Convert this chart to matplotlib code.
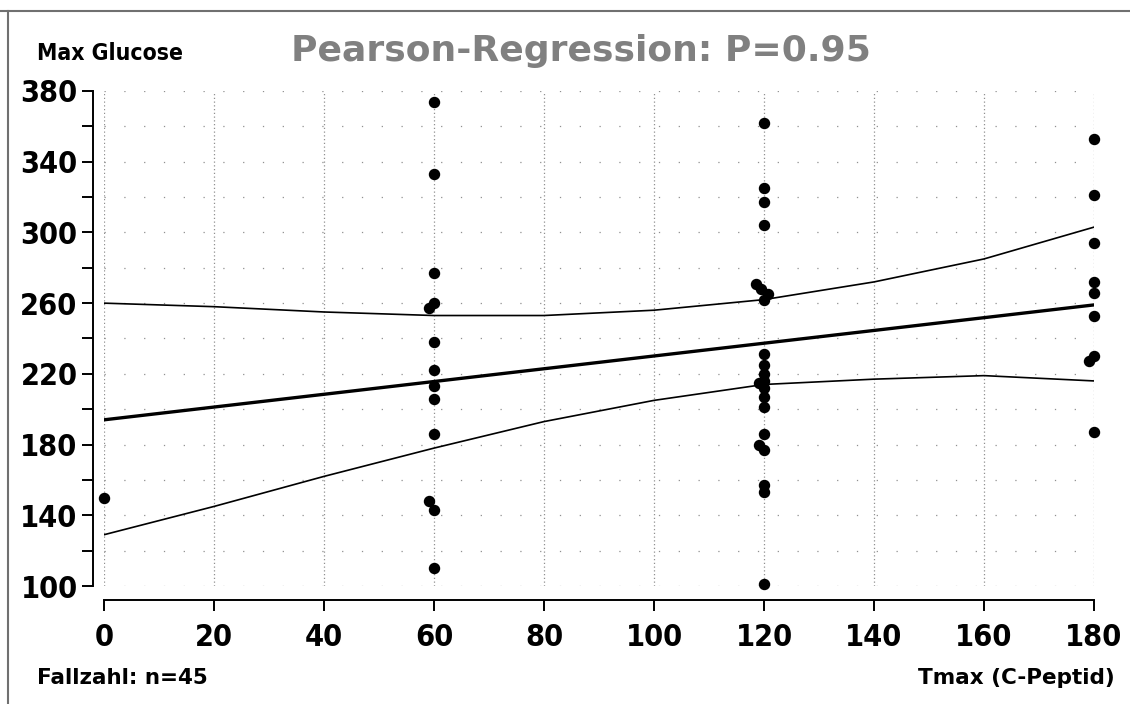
import matplotlib
matplotlib.use("Agg")
from matplotlib import pyplot as plt
from matplotlib.lines import Line2D

# Tmax (C-Peptid) vs. Max Glucose, n=45
tmax = [0,
        60, 60, 60, 59, 60, 60, 60, 60, 60, 60, 59, 60, 60,
        120, 120, 120, 120, 118.5, 119.5, 120.8, 120, 120, 120, 120, 120, 119,
        120, 120, 120, 120, 119, 120, 120, 120, 120,
        180, 180, 180, 180, 180, 180, 180, 179, 180]
glucose = [150,
           374, 333, 277, 257, 260, 238, 222, 213, 206, 186, 148, 143, 110,
           362, 325, 317, 304, 271, 268, 265, 262, 231, 225, 220, 216, 215,
           212, 207, 201, 186, 180, 177, 157, 153, 101,
           353, 321, 294, 272, 266, 253, 230, 227, 187]

# regression line and confidence band
reg_x = [0, 180]
reg_y = [194, 259]
band_x = [0, 20, 40, 60, 80, 100, 120, 140, 160, 180]
band_hi = [260, 258, 255, 253, 253, 256, 262, 272, 285, 303]
band_lo = [129, 145, 162, 178, 193, 205, 214, 217, 219, 216]

xticks = list(range(0, 181, 20))
yticks = list(range(100, 381, 40))
yminor = list(range(120, 381, 40))

W, H = 1130, 704
fig = plt.figure(figsize=(W / 100, H / 100), dpi=100)
ax = fig.add_axes([104 / W, 1 - 586 / H, 990 / W, 495 / H])

tick_font = dict(family="DejaVu Sans", stretch="condensed", size=22, weight="bold")

# dotted grid
for xv in xticks:
    ax.axvline(xv, color="#909090", lw=0.9, linestyle=(0, (1, 2)), zorder=0)
for yv in range(100, 381, 20):
    ax.axhline(yv, color="#909090", lw=0.9, linestyle=(0, (1, 14.84)), zorder=0)

ax.plot(band_x, band_hi, color="black", lw=1.2, zorder=2)
ax.plot(band_x, band_lo, color="black", lw=1.2, zorder=2)
ax.plot(reg_x, reg_y, color="black", lw=2.4, zorder=2)
ax.scatter(tmax, glucose, s=52, color="black", zorder=3, clip_on=False)

ax.set_xlim(0, 180)
ax.set_ylim(100, 380)
ax.spines["top"].set_visible(False)
ax.spines["right"].set_visible(False)
ax.spines["left"].set_position(("outward", 8))
ax.spines["bottom"].set_position(("outward", 10))
ax.spines["left"].set_linewidth(1.4)
ax.spines["bottom"].set_linewidth(1.4)

ax.set_xticks(xticks)
ax.set_xticklabels([str(v) for v in xticks], fontdict=tick_font)
ax.set_yticks(yticks)
ax.set_yticklabels([str(v) for v in yticks], fontdict=tick_font)
ax.set_yticks(yminor, minor=True)
ax.tick_params(axis="both", which="both", direction="out", length=8, width=1.4)
ax.tick_params(axis="x", pad=9)
ax.tick_params(axis="y", pad=3)

fig.text(37 / W, 1 - 60 / H, "Max Glucose", fontsize=16.5,
         family="DejaVu Sans", stretch="condensed", weight="bold", va="baseline")
fig.text(581 / W, 1 - 61 / H, "Pearson-Regression: P=0.95", fontsize=26,
         weight="bold", color="#808080", ha="center", va="baseline")
fig.text(37 / W, 1 - 684 / H, "Fallzahl: n=45", fontsize=15.5, weight="bold", va="baseline")
fig.text(1115 / W, 1 - 684 / H, "Tmax (C-Peptid)", fontsize=15.5, weight="bold",
         ha="right", va="baseline")

# window frame
fig.add_artist(Line2D([0, 1], [1 - 11 / H, 1 - 11 / H], color="#707070", lw=1.5))
fig.add_artist(Line2D([8 / W, 8 / W], [0, 1 - 11 / H], color="#707070", lw=1.5))

fig.savefig("out.png", dpi=100)
